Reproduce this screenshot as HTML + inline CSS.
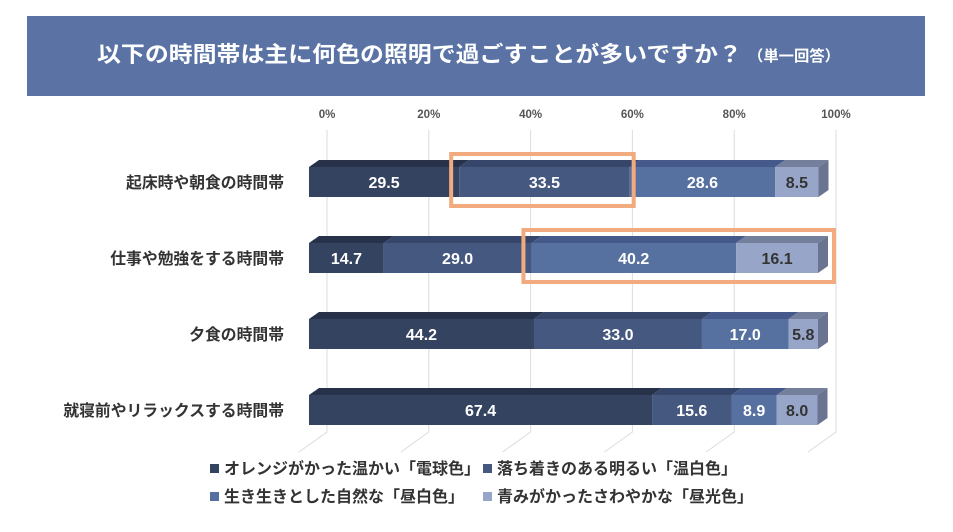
<!DOCTYPE html>
<html><head><meta charset="utf-8">
<style>
html,body{margin:0;padding:0;background:#fff;}
svg{display:block;font-family:"Liberation Sans","Noto Sans CJK JP",sans-serif;}
</style></head>
<body>
<svg id="chart" width="953" height="532" viewBox="0 0 953 532" xmlns="http://www.w3.org/2000/svg">
<rect x="27" y="16" width="898" height="80" fill="#5a73a4"/>
<text x="97" y="62" fill="#fff" font-size="22" font-weight="bold" textLength="645" lengthAdjust="spacingAndGlyphs">以下の時間帯は主に何色の照明で過ごすことが多いですか？</text>
<text x="748" y="61" fill="#fff" font-size="15" font-weight="bold" textLength="92" lengthAdjust="spacingAndGlyphs">（単一回答）</text>
<g id="grid"></g>
<g id="bars"></g>
<g id="boxes"></g>
<g id="legend"></g>
</svg>
<script>
const categories = ["起床時や朝食の時間帯","仕事や勉強をする時間帯","夕食の時間帯","就寝前やリラックスする時間帯"];
const seriesNames = ["オレンジがかった温かい「電球色」","落ち着きのある明るい「温白色」","生き生きとした自然な「昼白色」","青みがかったさわやかな「昼光色」"];
const s1 = [29.5,14.7,44.2,67.4];
const s2 = [33.5,29.0,33.0,15.6];
const s3 = [28.6,40.2,17.0,8.9];
const s4 = [8.5,16.1,5.8,8.0];
const ticks = [0,20,40,60,80,100];
const tickLabels = ["0%","20%","40%","60%","80%","100%"];
const highlight = [[0,1,1],[1,2,3]]; // [category, first series, last series]

const NS="http://www.w3.org/2000/svg";
const svg=document.getElementById('chart');
const series=[s1,s2,s3,s4];
const front=["#34435f","#45587f","#5670a0","#97a6c8"];
const top_=["#27324a","#36466a","#45598a","#747f9b"];
const labelCol=["#fff","#fff","#fff","#333"];
const X0=309, W=509, DX=10, DY=7, BH=30;
const x=v=>X0+v/100*W;
const yTop=i=>167+i*76;
function el(tag,attrs,parent){const e=document.createElementNS(NS,tag);for(const k in attrs)e.setAttribute(k,attrs[k]);parent.appendChild(e);return e;}

const grid=document.getElementById('grid');
ticks.forEach((t,i)=>{
  const gx=x(t)+18;
  const l=el('polyline',{points:`${gx},130 ${gx},432 ${gx-28},452`,fill:"none",stroke:"#dcdcdc","stroke-width":1},grid);
  
  
  const tx=el('text',{x:gx,y:118,"text-anchor":"middle","font-size":11.5,"font-weight":"bold",fill:"#555"},grid);
  tx.textContent=tickLabels[i];
  
  
});

const bars=document.getElementById('bars');
categories.forEach((c,i)=>{
  const y=yTop(i);
  const cl=el('text',{x:284,y:y+BH/2+6,"text-anchor":"end","font-size":15.8,"font-weight":"bold",fill:"#333"},bars);
  cl.textContent=c;
  
  
  let acc=0;
  series.forEach((s,k)=>{
    const v=s[i], a=x(acc), b=x(acc+v);
    const tp=el('polygon',{points:`${a},${y} ${a+DX},${y-DY} ${b+DX},${y-DY} ${b},${y}`,fill:top_[k]},bars);
    
    
    const r=el('rect',{x:a,y:y,width:b-a,height:BH,fill:front[k]},bars);
    
    
    const t=el('text',{x:(a+b)/2,y:y+BH/2+6,"text-anchor":"middle","font-size":16,"font-weight":"bold",fill:labelCol[k]},bars);
    t.textContent=v.toFixed(1);
    
    
    acc+=v;
  });
  const e=x(acc);
  const sd=el('polygon',{points:`${e},${y} ${e+DX},${y-DY} ${e+DX},${y+BH-DY} ${e},${y+BH}`,fill:"#6a7390"},bars);
  
  
});

const boxes=document.getElementById('boxes');
highlight.forEach(([ci,s0,s1e])=>{
  let acc=0;for(let k=0;k<s0;k++)acc+=series[k][ci];
  let end=acc;for(let k=s0;k<=s1e;k++)end+=series[k][ci];
  const a=x(acc)-8, b=x(end)+(end>99?16:4);
  const y=yTop(ci);
  const r=el('rect',{x:a,y:y-13,width:b-a,height:BH+22,fill:"none",stroke:"#f2ab7e","stroke-width":4},boxes);
  
  
});

const legend=document.getElementById('legend');
const lp=[[210,474],[483,474],[210,502],[483,502]];
seriesNames.forEach((n,k)=>{
  const [lx,ly]=lp[k];
  const sq=el('rect',{x:lx,y:ly-10,width:9,height:9,fill:front[k]},legend);
  
  
  const t=el('text',{x:lx+14,y:ly,"font-size":16,"font-weight":"bold",fill:"#333"},legend);
  t.textContent=n;
  
  
});
</script>
</body></html>
